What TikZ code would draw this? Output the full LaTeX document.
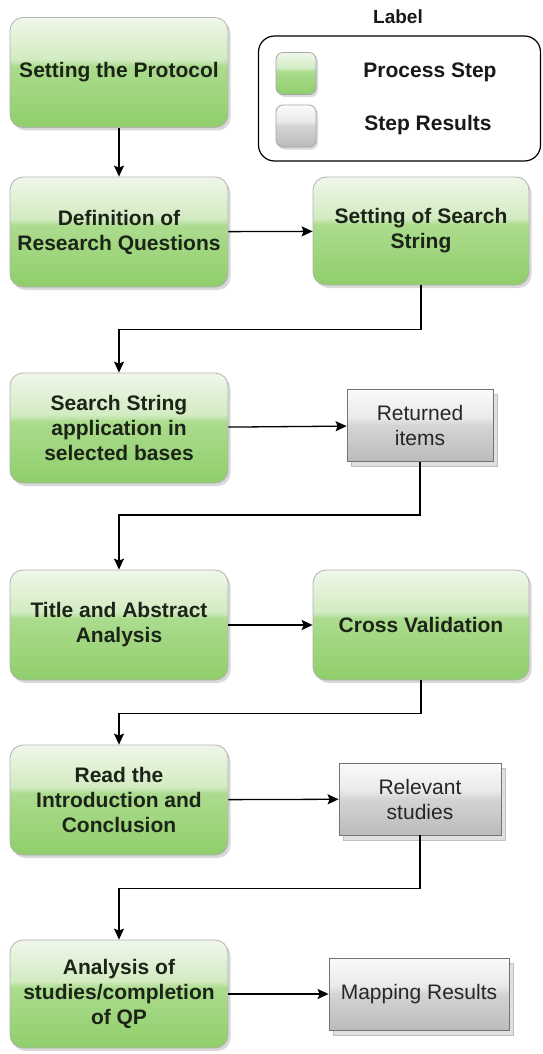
\documentclass[tikz,border=0pt]{standalone}
\usepackage{fontspec}
\setmainfont{Liberation Sans}
\usetikzlibrary{arrows.meta,shadows}
\definecolor{gTop}{HTML}{F0F7EA}
\definecolor{gHi}{HTML}{D2EBC2}
\definecolor{gMid}{HTML}{ACDC8E}
\definecolor{gBot}{HTML}{8FCE6A}
\definecolor{sTop}{HTML}{FAFAFA}
\definecolor{sHi}{HTML}{EAEAEA}
\definecolor{sMid}{HTML}{D4D4D4}
\definecolor{sBot}{HTML}{BBBBBB}
\definecolor{ink}{HTML}{1C2418}
\pgfdeclareverticalshading{greenstep}{100bp}{color(0bp)=(gBot); color(25bp)=(gBot); color(53bp)=(gMid); color(56bp)=(gHi); color(75bp)=(gTop); color(100bp)=(gTop)}
\pgfdeclareverticalshading{graystep}{100bp}{color(0bp)=(sBot); color(25bp)=(sBot); color(50bp)=(sMid); color(56bp)=(sHi); color(75bp)=(sTop); color(100bp)=(sTop)}
\tikzset{
  proc/.style={rounded corners=13pt, draw=black!30, line width=0.8pt, shading=greenstep,
    minimum width=218pt, minimum height=110pt, inner sep=0pt, align=center,
    font=\fontsize{21}{25}\selectfont\bfseries, text=ink,
    general shadow={shadow xshift=2.5pt, shadow yshift=-3pt, fill=black!15}},
  result/.style={draw=black!55, line width=0.8pt, shading=graystep,
    minimum height=72pt, inner sep=0pt, align=center,
    font=\fontsize{21}{25}\selectfont, text=black!85,
    general shadow={shadow xshift=4pt, shadow yshift=-5pt, fill=black!12, draw=black!25}},
  swatch/.style={rounded corners=7pt, draw=black!35, line width=0.8pt,
    minimum width=40pt, minimum height=42pt, inner sep=0pt,
    general shadow={shadow xshift=2pt, shadow yshift=-2.5pt, fill=black!15}},
  legtext/.style={font=\fontsize{21}{25}\selectfont\bfseries, text=black!90},
  conn/.style={line width=1.3pt, -{Stealth[length=11pt,width=10pt,inset=2pt]}}
}
\begin{document}
\begin{tikzpicture}[x=1pt,y=-1pt]
\useasboundingbox (0,0) rectangle (542,1054);
% legend
\node[font=\fontsize{19}{22}\selectfont\bfseries, text=black!90] (lbl) at (398,17) {Label};
\node[draw, rounded corners=16pt, line width=1.2pt, fill=white,
      minimum width=282pt, minimum height=125pt, inner sep=0pt] (leg) at (399.5,98.5) {};
\node[swatch, shading=greenstep] (swg) at (296,73.5) {};
\node[swatch, shading=graystep] (sws) at (296,126) {};
\node[legtext] (lp) at (430,72) {Process Step};
\node[legtext] (ls) at (428,125) {Step Results};
% process steps
\node[proc] (p1) at (119,72.5) {Setting the Protocol};
\node[proc] (p2) at (119,232) {Definition of\\Research Questions};
\node[proc, minimum width=216pt, minimum height=108pt] (p3) at (421,231) {Setting of Search\\String};
\node[proc] (p4) at (119,428) {Search String\\application in\\selected bases};
\node[result, minimum width=146pt] (r1) at (420,425.5) {Returned\\items};
\node[proc] (p5) at (119,625) {Title and Abstract\\Analysis};
\node[proc, minimum width=216pt] (p6) at (421,625) {Cross Validation};
\node[proc] (p7) at (119,800) {Read the\\Introduction and\\Conclusion};
\node[result, minimum width=162pt] (r2) at (420,799) {Relevant\\studies};
\node[proc, minimum height=108pt] (p8) at (119,994) {Analysis of\\studies/completion\\of QP};
\node[result, minimum width=180pt] (r3) at (419,994) {Mapping Results};
% connectors
\draw[conn] (p1) -- (p2);
\draw[conn] (p2) -- (p3);
\draw[conn] (p3.south) -- ++(0,44) -| (p4.north);
\draw[conn] (p4) -- (r1);
\draw[conn] (r1.south) -- ++(0,53) -| (p5.north);
\draw[conn] (p5) -- (p6);
\draw[conn] (p6.south) -- ++(0,33) -| (p7.north);
\draw[conn] (p7) -- (r2);
\draw[conn] (r2.south) -- ++(0,53) -| (p8.north);
\draw[conn] (p8) -- (r3);
\end{tikzpicture}
\end{document}
